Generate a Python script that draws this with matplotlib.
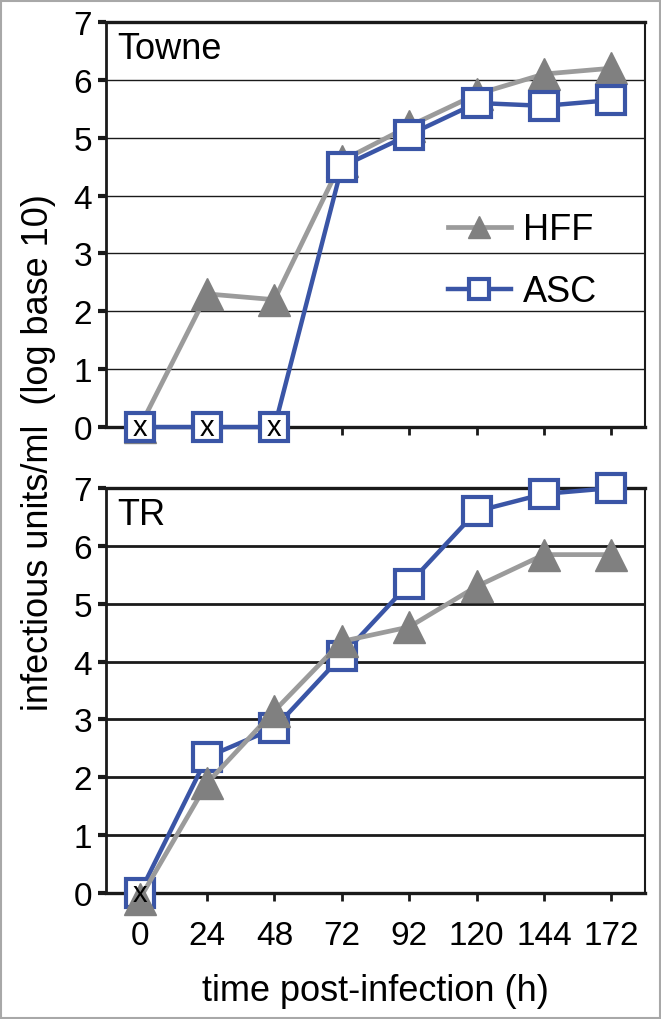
import matplotlib
matplotlib.use("Agg")
import matplotlib.pyplot as plt
import matplotlib.patches as mpatches

plt.rcParams['font.family'] = ['Liberation Sans', 'DejaVu Sans']

# time points (h), drawn as equally spaced categories
times = ['0', '24', '48', '72', '92', '120', '144', '172']

# Towne
towne_hff = [0.0, 2.3, 2.2, 4.6, 5.2, 5.75, 6.1, 6.2]
towne_asc = [0.0, 0.0, 0.0, 4.5, 5.05, 5.6, 5.55, 5.65]
towne_asc_nd = [True, True, True, False, False, False, False, False]

# TR
tr_hff = [-0.1, 1.9, 3.15, 4.35, 4.6, 5.3, 5.85, 5.85]
tr_asc = [0.0, 2.35, 2.85, 4.1, 5.35, 6.6, 6.9, 7.0]
tr_asc_nd = [True, False, False, False, False, False, False, False]

blue = '#3a55a6'
gray_line = '#9b9b9b'
gray_mark = '#808080'

fig = plt.figure(figsize=(6.61, 10.20), dpi=100)
fig.patches.append(mpatches.Rectangle((0.001, 0.001), 0.997, 0.997, transform=fig.transFigure,
                                      fill=False, edgecolor='#a8a8a8', linewidth=1.5))

ax1 = fig.add_axes([0.1604, 0.5804, 0.8155, 0.3971])
ax2 = fig.add_axes([0.1604, 0.1235, 0.8155, 0.3970])

x = list(range(len(times)))


def draw_panel(ax, hff, asc, nd, name, grid_lw, hff_on_top):
    z_h, z_a = (4, 3) if hff_on_top else (3, 4)
    ax.plot(x, hff, color=gray_line, lw=3.4, marker='^', ms=23,
            mfc=gray_mark, mec=gray_mark, label='HFF', zorder=z_h, clip_on=False)
    ax.plot(x, asc, color=blue, lw=3.2, marker='s', ms=20, mfc='white',
            mec=blue, mew=3.0, label='ASC', zorder=z_a, clip_on=False)
    for xi, yi, flag in zip(x, asc, nd):
        if flag:
            ax.text(xi, yi, 'x', ha='center', va='center', fontsize=21,
                    zorder=6, clip_on=False)
    ax.set_xlim(-0.5, 7.5)
    ax.set_ylim(0, 7)
    ax.set_yticks(range(0, 8))
    ax.set_xticks(x)
    ax.yaxis.grid(True, color='#1a1a1a', lw=grid_lw)
    ax.set_axisbelow(True)
    ax.tick_params(axis='y', direction='out', length=6, width=3, pad=4,
                   labelsize=24, color='#1a1a1a')
    ax.tick_params(axis='x', direction='out', length=5.5, width=2, pad=14,
                   labelsize=24, color='#1a1a1a')
    for side, w in (('left', 2.0), ('top', 2.4), ('right', 1.5), ('bottom', 2.4)):
        ax.spines[side].set_linewidth(w)
        ax.spines[side].set_color('#1a1a1a')
    ax.text(0.02, 0.935, name, transform=ax.transAxes, fontsize=26,
            ha='left', va='center')


draw_panel(ax1, towne_hff, towne_asc, towne_asc_nd, 'Towne', 1.0, False)
draw_panel(ax2, tr_hff, tr_asc, tr_asc_nd, 'TR', 2.0, True)
ax1.set_xticklabels([])
ax2.set_xticklabels(times)

ax1.legend(loc='center left', bbox_to_anchor=(0.6, 0.41), frameon=False,
           fontsize=26, handlelength=1.75, handletextpad=0.35, borderpad=0,
           labelspacing=0.75, markerscale=0.72)

ax2.set_xlabel('time post-infection (h)', fontsize=26, labelpad=16)
fig.text(0.058, 0.556, 'infectious units/ml  (log base 10)', rotation=90,
         fontsize=26, ha='center', va='center')

fig.savefig('out.png', dpi=100)
